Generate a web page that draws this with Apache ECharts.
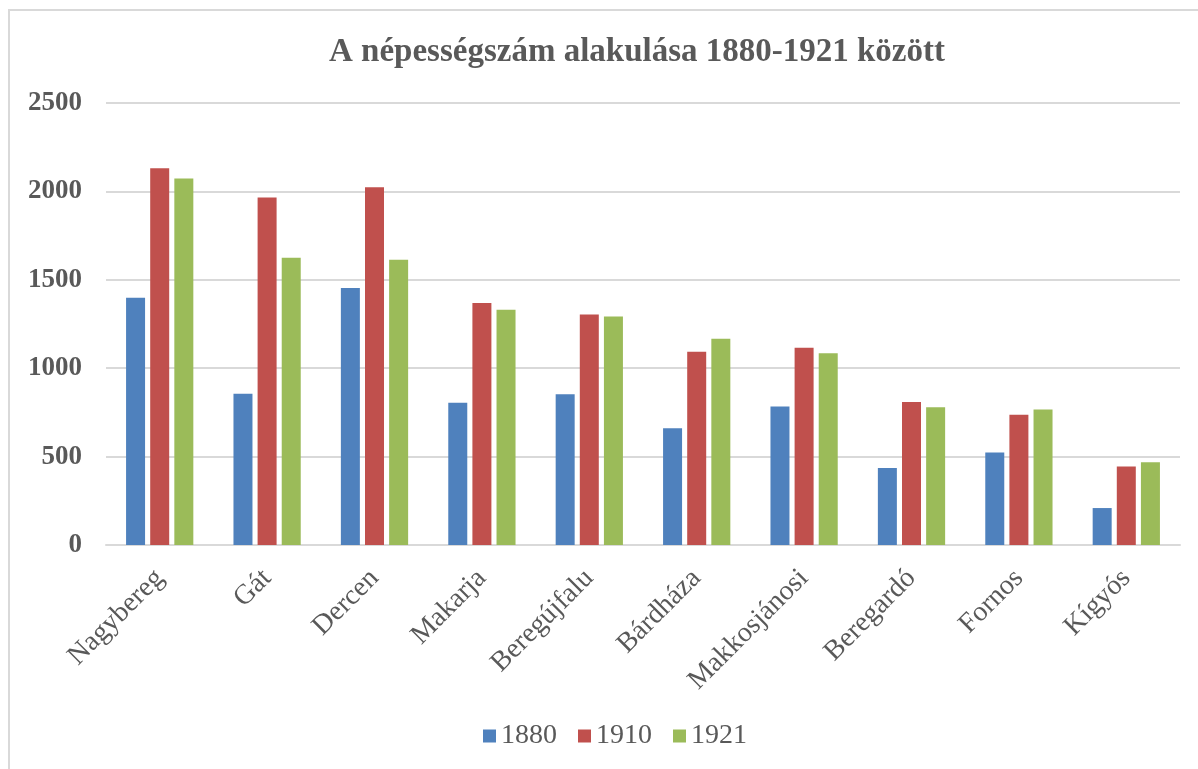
<!DOCTYPE html>
<html>
<head>
<meta charset="utf-8">
<script src="https://cdn.jsdelivr.net/npm/echarts@6/dist/echarts.min.js"></script>
<style>
    html, body { margin: 0; padding: 0; background: #fff; }
    #chart { width: 1198px; height: 769px; }
</style>
</head>
<body>
<div id="chart"></div>
<script>
    // Adatok
    const villages = ['Nagybereg', 'Gát', 'Dercen', 'Makarja', 'Beregújfalu', 'Bárdháza', 'Makkosjánosi', 'Beregardó', 'Fornos', 'Kígyós'];
    const pop1880 = [1398, 856, 1454, 805, 852, 660, 783, 436, 523, 209];
    const pop1910 = [2131, 1966, 2024, 1369, 1304, 1093, 1115, 809, 737, 444];
    const pop1921 = [2073, 1625, 1614, 1330, 1292, 1166, 1084, 779, 766, 468];
    const yearNames = ['1880', '1910', '1921'];
    const yTicks = [0, 500, 1000, 1500, 2000, 2500];

    const textColor = '#595959';
    const serif = '"Liberation Serif", "Times New Roman", serif';

    const chart = echarts.init(document.getElementById('chart'));

    function barSeries(name, data, color) {
        return {
            name: name,
            type: 'bar',
            data: data,
            barWidth: 19,
            barGap: '27%',
            itemStyle: { color: color }
        };
    }

    const option = {
        animation: false,
        textStyle: { fontFamily: serif },
        graphic: [{
            type: 'rect',
            shape: { x: 9, y: 10, width: 1200, height: 780 },
            style: { fill: 'none', stroke: '#d9d9d9', lineWidth: 2 },
            silent: true
        }],
        title: {
            text: 'A népességszám alakulása 1880-1921 között',
            left: 632,
            textAlign: 'center',
            top: 31,
            textStyle: {
                fontFamily: serif,
                fontSize: 33,
                fontWeight: 'bold',
                color: textColor
            }
        },
        legend: {
            data: yearNames,
            bottom: 14,
            left: 478,
            itemWidth: 13,
            itemHeight: 13,
            itemGap: 21,
            icon: 'rect',
            textStyle: {
                fontFamily: serif,
                fontSize: 28,
                color: textColor
            }
        },
        grid: {
            left: 106,
            right: 18,
            top: 103,
            bottom: 224,
            containLabel: false
        },
        xAxis: {
            type: 'category',
            data: villages,
            axisLine: { lineStyle: { color: '#d9d9d9', width: 2 } },
            axisTick: { show: false },
            axisLabel: {
                rotate: 45,
                interval: 0,
                margin: 29,
                fontFamily: serif,
                fontSize: 28,
                color: textColor
            }
        },
        yAxis: {
            type: 'value',
            min: yTicks[0],
            max: yTicks[yTicks.length - 1],
            interval: yTicks[1] - yTicks[0],
            axisLine: { show: false },
            axisTick: { show: false },
            splitLine: { lineStyle: { color: '#d9d9d9', width: 2 } },
            axisLabel: {
                margin: 24,
                fontFamily: serif,
                fontSize: 27,
                fontWeight: 'bold',
                color: textColor,
                formatter: function(value) {
                    return String(value);
                }
            }
        },
        series: [
            barSeries(yearNames[0], pop1880, '#4f81bd'),
            barSeries(yearNames[1], pop1910, '#c0504d'),
            barSeries(yearNames[2], pop1921, '#9bbb59')
        ]
    };

    chart.setOption(option);
</script>
</body>
</html>
